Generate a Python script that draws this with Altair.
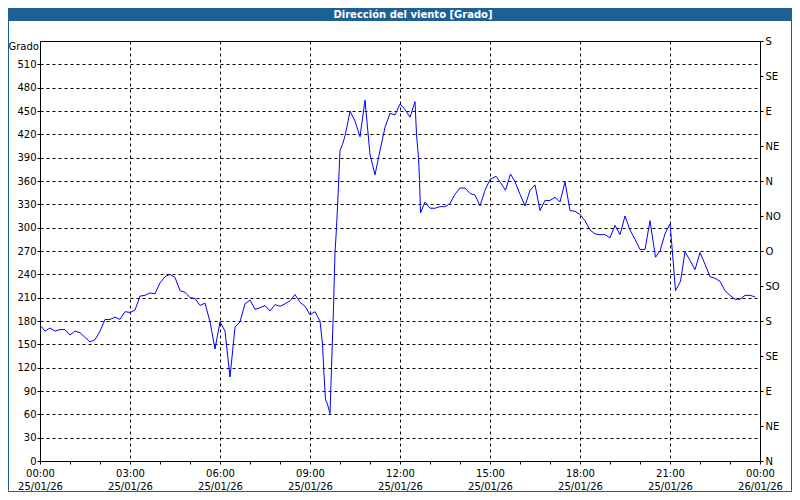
import altair as alt
import pandas as pd

# ---- data ----
times = [
    "00:00", "00:10", "00:20", "00:30", "00:40", "00:50",
    "01:00", "01:10", "01:20", "01:30", "01:40", "01:50",
    "02:00", "02:10", "02:20", "02:30", "02:40", "02:50",
    "03:00", "03:10", "03:20", "03:30", "03:40", "03:50",
    "04:00", "04:10", "04:20", "04:30", "04:40", "04:50",
    "05:00", "05:10", "05:20", "05:30", "05:40", "05:50",
    "06:00", "06:10", "06:20", "06:30", "06:40", "06:50",
    "07:00", "07:10", "07:20", "07:30", "07:40", "07:50",
    "08:00", "08:10", "08:20", "08:30", "08:40", "08:50",
    "09:00", "09:10", "09:20", "09:25", "09:28", "09:31", "09:35",
    "09:40", "09:43", "09:47", "09:50", "09:53", "09:57",
    "10:00", "10:05", "10:10", "10:15", "10:20", "10:30", "10:40", "10:50",
    "11:00", "11:10", "11:20", "11:30", "11:40", "11:50",
    "12:00", "12:10", "12:20", "12:30", "12:33", "12:37", "12:39", "12:41", "12:50",
    "13:00", "13:10", "13:20", "13:30", "13:40", "13:50",
    "14:00", "14:10", "14:20", "14:30", "14:40", "14:50",
    "15:00", "15:12", "15:21", "15:31", "15:41", "15:50",
    "16:00", "16:10", "16:20", "16:30", "16:40", "16:50",
    "17:00", "17:10", "17:20", "17:30", "17:40", "17:50",
    "18:00", "18:10", "18:20", "18:30", "18:40", "18:50",
    "19:00", "19:10", "19:20", "19:30", "19:40", "19:50",
    "20:00", "20:10", "20:20", "20:31", "20:40", "20:50",
    "21:00", "21:03", "21:11", "21:21", "21:30", "21:40", "21:50",
    "22:00", "22:10", "22:20", "22:30", "22:40", "22:50",
    "23:00", "23:10", "23:20", "23:30", "23:40", "23:50",
]
values = [
    175, 167, 171, 167, 169, 169,
    162, 167, 165, 159, 153, 156,
    167, 182, 182, 185, 182, 192,
    191, 194, 212, 213, 216, 215,
    229, 237, 240, 236, 219, 217,
    210, 209, 200, 203, 179, 144,
    179, 167, 108, 172, 179, 202,
    207, 195, 197, 200, 193, 201,
    199, 202, 206, 214, 204, 199,
    188, 192, 180, 150, 111, 79, 73,
    61, 120, 197, 268, 300, 354,
    399, 407, 418, 433, 450, 437, 417, 464,
    394, 368, 399, 429, 447, 445,
    459, 452, 442, 462, 420, 390, 362, 319, 333,
    325, 325, 327, 327, 331, 343,
    351, 351, 344, 342, 328, 348,
    362, 366, 358, 348, 369, 359,
    343, 328, 348, 355, 322, 335,
    335, 339, 333, 359, 322, 321,
    317, 309, 297, 292, 291, 291,
    287, 303, 291, 315, 297, 285,
    272, 272, 309, 262, 270, 292,
    305, 283, 219, 231, 269, 258, 246,
    268, 253, 237, 235, 231, 219,
    213, 208, 208, 213, 213, 211,
]

compass = ["N", "NE", "E", "SE", "S", "SO", "O", "NO", "N", "NE", "E", "SE", "S"]
left_ticks = list(range(0, 511, 30))
right_ticks = list(range(0, 541, 45))
hour_ticks = list(range(0, 25))
date_start = "25/01/26"
date_end = "26/01/26"
title_text = "Dirección del viento [Grado]"
y_title = "Grado"

hours = [int(t[:2]) + int(t[3:]) / 60 for t in times]
df = pd.DataFrame({"hora": hours, "grado": values})

FONT = "DejaVu Sans"
BAR = "#1d6096"

x_enc = alt.X(
    "hora:Q",
    scale=alt.Scale(domain=[0, 24], nice=False, zero=False),
    axis=alt.Axis(
        values=hour_ticks,
        title=None,
        labelExpr=(
            "datum.value % 3 == 0 ? [(datum.value % 24 < 10 ? '0' : '') + (datum.value % 24) + ':00', "
            f"datum.value < 24 ? '{date_start}' : '{date_end}'] : ''"
        ),
        labelFlush=False,
        labelOverlap=False,
        labelLineHeight=13,
        labelPadding=4,
        labelFont=FONT,
        labelFontSize=10,
        labelColor="black",
        grid=True,
        gridDash=[3, 3],
        gridColor="black",
        gridWidth=1,
        gridOpacity={"condition": {"test": "datum.value % 3 != 0", "value": 0}, "value": 1},
        tickSize=3,
        tickColor="black",
        domain=False,
    ),
)

y_scale = alt.Scale(domain=[0, 540], nice=False, zero=True)

line = alt.Chart(df).mark_line(color="#0000ff", strokeWidth=1).encode(
    x=x_enc,
    y=alt.Y(
        "grado:Q",
        scale=y_scale,
        axis=alt.Axis(
            values=left_ticks,
            title=y_title,
            titleAngle=0,
            titleAlign="left",
            titleBaseline="middle",
            titleX=-32,
            titleY=5,
            titleFont=FONT,
            titleFontSize=10,
            titleFontWeight="normal",
            titleColor="black",
            labelFont=FONT,
            labelFontSize=10,
            labelColor="black",
            labelPadding=1,
            grid=True,
            gridDash=[3, 3],
            gridColor="black",
            gridWidth=1,
            tickSize=3,
            tickColor="black",
            domain=False,
        ),
    ),
)

right = alt.Chart(df).mark_line(opacity=0).encode(
    x=x_enc,
    y=alt.Y(
        "grado:Q",
        scale=y_scale,
        axis=alt.Axis(
            orient="right",
            values=right_ticks,
            title=None,
            labelExpr=f"{compass}[round(datum.value / 45)]",
            labelFont=FONT,
            labelFontSize=10,
            labelColor="black",
            labelPadding=2,
            grid=False,
            tickSize=3,
            tickColor="black",
            domain=False,
        ),
    ),
)

one = pd.DataFrame({"k": [0]})
bar = alt.Chart(one).mark_rect(color=BAR).encode(
    x=alt.value(-32), x2=alt.value(752), y=alt.value(-33), y2=alt.value(-20)
)
bar_text = alt.Chart(one).mark_text(
    text=title_text, color="white", font=FONT, fontSize=10, fontWeight="bold",
    align="center", baseline="middle",
).encode(x=alt.value(373), y=alt.value(-26))
frame = alt.Chart(one).mark_rect(fill=None, stroke=BAR, strokeWidth=1).encode(
    x=alt.value(-31.5), x2=alt.value(751.5), y=alt.value(-32.5), y2=alt.value(450.5)
)

chart = (
    alt.layer(bar, bar_text, line, right, frame)
    .resolve_axis(y="independent")
    .properties(
        width=720,
        height=420,
        autosize=alt.AutoSizeParams(type="none"),
        padding={"left": 32, "top": 33, "right": 32, "bottom": 31},
        background="white",
    )
    .configure_view(stroke="black", strokeWidth=1)
)

chart.save("out.html", embed_options={"renderer": "svg", "actions": False})
